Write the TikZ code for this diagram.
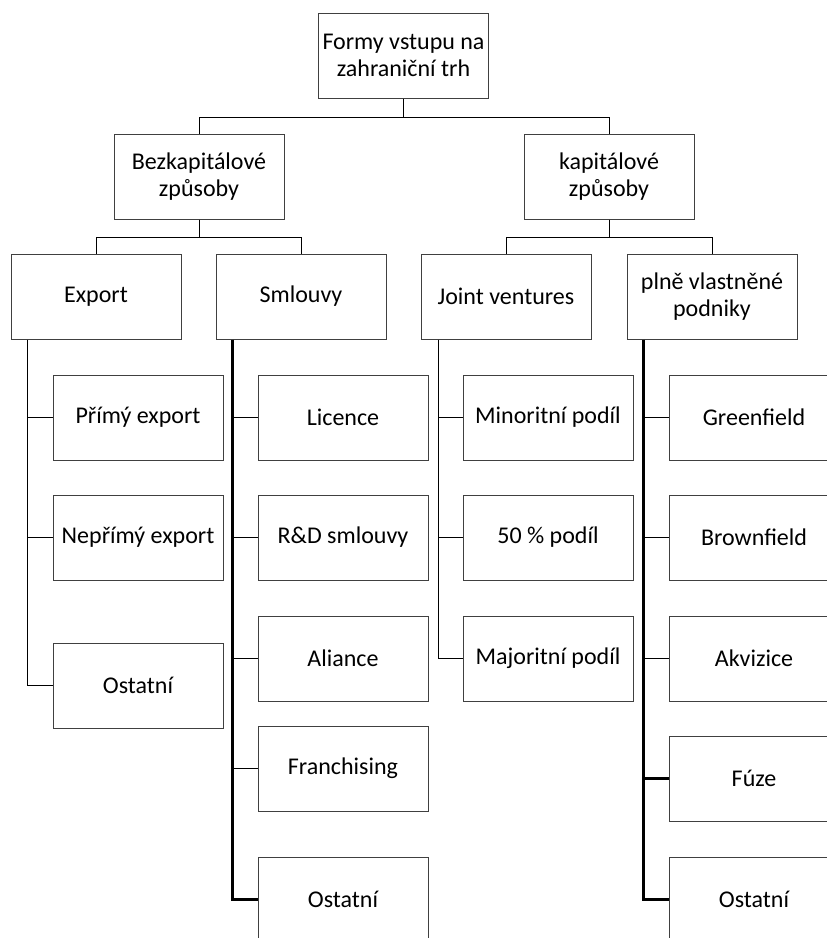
\documentclass[tikz,border=0pt]{standalone}
\usepackage{fontspec}
\setmainfont{Carlito}
\usepackage{tikz}
\usetikzlibrary{positioning,calc}
\tikzset{
    org_box/.style={draw=black!75, line width=1pt, minimum width=170pt, minimum height=85pt,
        align=center, inner sep=2pt, font=\fontsize{24}{27}\selectfont},
    org_link/.style={line width=1pt, black},
    org_spine/.style={line width=1.4pt, black},
    org_spine_bold/.style={line width=2.3pt, black},
}

\begin{document}
\begin{tikzpicture}[x=1pt, y=-1pt]
    \useasboundingbox (0,0) rectangle (827,938);
    \clip (0,0) rectangle (827,938);
        % Level 0 and 1
        \node[org_box] (root)    at (403.5,55.5)  {Formy vstupu na\\zahraniční trh};
        \node[org_box] (bez)     at (199,176.5)   {Bezkapitálové\\způsoby};
        \node[org_box] (kap)     at (609,176.5)   {kapitálové\\způsoby};

        % Level 2
        \node[org_box] (export)  at (96,296.5)    {Export};
        \node[org_box] (smlouvy) at (301,296.5)   {Smlouvy};
        \node[org_box] (joint)   at (506,296.5)   {Joint ventures};
        \node[org_box] (plne)    at (712,296.5)   {plně vlastněné\\podniky};

        % Export column
        \node[org_box] (prim)    at (138,417.5)   {Přímý export};
        \node[org_box] (neprim)  at (138,537.5)   {Nepřímý export};
        \node[org_box] (exost)   at (138,685.5)   {Ostatní};

        % Smlouvy column
        \node[org_box] (lic)     at (343,417.5)   {Licence};
        \node[org_box] (rd)      at (343,537.5)   {R\&D smlouvy};
        \node[org_box] (ali)     at (343,658.5)   {Aliance};
        \node[org_box] (fran)    at (343,768.5)   {Franchising};
        \node[org_box] (smost)   at (343,899.5)   {Ostatní};

        % Joint ventures column
        \node[org_box] (minor)   at (548,417.5)   {Minoritní podíl};
        \node[org_box] (half)    at (548,537.5)   {50 \% podíl};
        \node[org_box] (major)   at (548,658.5)   {Majoritní podíl};

        % plne vlastnene column
        \node[org_box] (green)   at (754,417.5)   {Greenfield};
        \node[org_box] (brown)   at (754,537.5)   {Brownfield};
        \node[org_box] (akv)     at (754,658.5)   {Akvizice};
        \node[org_box] (fuze)    at (754,778.5)   {Fúze};
        \node[org_box] (plost)   at (754,899.5)   {Ostatní};

        % Tree links
        \draw[org_link] (root.south) -- ++(0,19) -| (bez.north);
        \draw[org_link] (root.south) -- ++(0,19) -| (kap.north);
        \draw[org_link] (bez.south) -- ++(0,18) -| (export.north);
        \draw[org_link] (bez.south) -- ++(0,18) -| (smlouvy.north);
        \draw[org_link] (kap.south) -- ++(0,18) -| (joint.north);
        \draw[org_link] (kap.south) -- ++(0,18) -| (plne.north);

        % Spines
        \coordinate (exsp) at ([xshift=17pt]export.south west);
        \coordinate (smsp) at ([xshift=17pt]smlouvy.south west);
        \coordinate (jvsp) at ([xshift=18pt]joint.south west);
        \coordinate (plsp) at ([xshift=17pt]plne.south west);

        \draw[org_spine] (exsp) |- (exost.west);
        \foreach \n in {prim,neprim} \draw[org_link] (exsp |- \n.west) -- (\n.west);

        \draw[org_spine_bold] (smsp) |- (smost.west);
        \foreach \n in {lic,rd,ali,fran} \draw[org_link] (smsp |- \n.west) -- (\n.west);

        \draw[org_spine] (jvsp) |- (major.west);
        \foreach \n in {minor,half} \draw[org_link] (jvsp |- \n.west) -- (\n.west);

        \draw[org_spine_bold] (plsp) |- (plost.west);
        \foreach \n in {green,brown,akv} \draw[org_link] (plsp |- \n.west) -- (\n.west);
        \draw[org_spine_bold] (plsp |- fuze.west) -- (fuze.west);
\end{tikzpicture}
\end{document}
